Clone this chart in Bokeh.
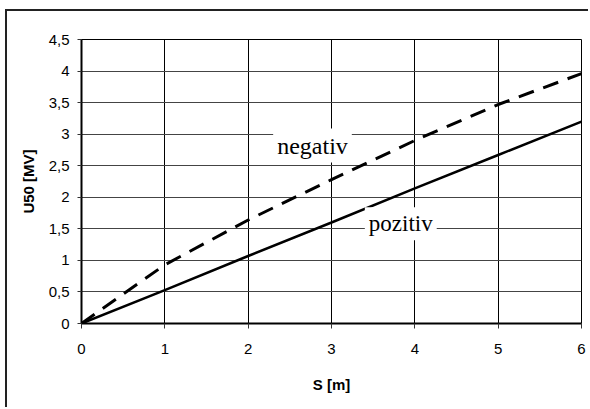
from bokeh.plotting import figure
from bokeh.models import FixedTicker, Label
from bokeh.embed import file_html
from bokeh.resources import INLINE

# data
s_values = [0, 1, 2, 3, 4, 5, 6]
u50_negativ = [0, 0.93, 1.64, 2.28, 2.90, 3.47, 3.96]
u50_pozitiv = [0, 0.53, 1.07, 1.60, 2.14, 2.67, 3.20]
x_ticks = [0, 1, 2, 3, 4, 5, 6]
y_ticks = [0, 0.5, 1, 1.5, 2, 2.5, 3, 3.5, 4, 4.5]
y_tick_labels = ["0", "0,5", "1", "1,5", "2", "2,5", "3", "3,5", "4", "4,5"]
x_title = "S [m]"
y_title = "U50 [MV]"
label_neg = "negativ"
label_poz = "pozitiv"

p = figure(width=581, height=396, x_range=(0, 6), y_range=(0, 4.5),
           output_backend="svg", toolbar_location=None,
           min_border_left=74, min_border_right=9, min_border_top=28,
           min_border_bottom=86, background_fill_color="white",
           border_fill_color="white")

# outer chart frame (cropped at the right and bottom in the reference)
p.styles = {"margin-left": "5px", "margin-top": "9px",
            "border-left": "2px solid #222222", "border-top": "2px solid #222222",
            "box-sizing": "content-box"}

p.outline_line_color = "black"
p.outline_line_width = 1

for ax in (p.xaxis[0], p.yaxis[0]):
    ax.axis_line_color = "black"
    ax.axis_line_width = 2
    ax.major_tick_line_color = "#333333"
    ax.major_tick_in = 0
    ax.minor_tick_line_color = None
    ax.major_label_text_font = "Liberation Sans"
    ax.major_label_text_font_size = "15px"
    ax.major_label_text_color = "black"
    ax.axis_label_text_font = "Liberation Sans"
    ax.axis_label_text_font_size = "15px"
    ax.axis_label_text_font_style = "bold"
    ax.axis_label_text_color = "black"

p.xaxis.ticker = FixedTicker(ticks=x_ticks)
p.yaxis.ticker = FixedTicker(ticks=y_ticks)
p.yaxis.major_label_overrides = {t: l for t, l in zip(y_ticks, y_tick_labels)}
p.xaxis.major_tick_out = 5
p.yaxis.major_tick_out = 4
p.xaxis.major_label_standoff = 15
p.yaxis.major_label_standoff = 8
p.xaxis.axis_label = x_title
p.yaxis.axis_label = y_title
p.xaxis.axis_label_standoff = 19
p.yaxis.axis_label_standoff = 9

p.xgrid.ticker = FixedTicker(ticks=x_ticks)
p.ygrid.ticker = FixedTicker(ticks=y_ticks)
p.xgrid.grid_line_color = "black"
p.ygrid.grid_line_color = "#444444"
p.xgrid.grid_line_width = 1
p.ygrid.grid_line_width = 1

p.line(s_values, u50_negativ, line_color="black", line_width=3, line_dash="16 10")
p.line(s_values, u50_pozitiv, line_color="black", line_width=2.5)

p.add_layout(Label(x=2.30, y=2.82, text=label_neg, text_font="Liberation Serif",
                   text_font_size="24px", text_baseline="middle", text_align="left",
                   background_fill_color="white", padding=4, text_color="black"))
p.add_layout(Label(x=3.40, y=1.58, text=label_poz, text_font="Liberation Serif",
                   text_font_size="23px", text_baseline="middle", text_align="left",
                   background_fill_color="white", padding=4, text_color="black"))

open("out.html", "w").write(file_html(p, INLINE))
